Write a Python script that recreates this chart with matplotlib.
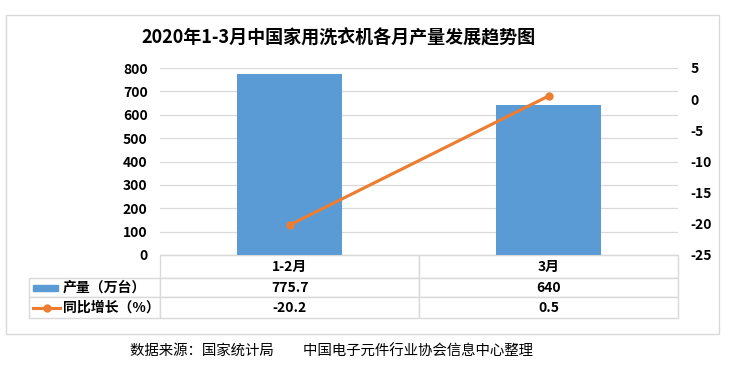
import matplotlib
matplotlib.use("Agg")
import matplotlib.pyplot as plt
from matplotlib.table import Table
from matplotlib.patches import Rectangle
from matplotlib.lines import Line2D
import numpy as np

plt.rcParams["font.family"] = ["Noto Sans CJK SC", "DejaVu Sans"]
plt.rcParams["axes.unicode_minus"] = False

categories = ["1-2月", "3月"]
output = [775.7, 640]
growth = [-20.2, 0.5]
output_label = "产量（万台）"
growth_label = "同比增长（%）"
output_text = ["775.7", "640"]
growth_text = ["-20.2", "0.5"]

BAR_COLOR = "#5B9BD5"
LINE_COLOR = "#ED7D31"
GRID = "#D9D9D9"

W, H = 731, 372
AX_W, AX_H = 518, 187
fig = plt.figure(figsize=(W / 100, H / 100), dpi=100)

# outer frame
fig.add_artist(Rectangle((6 / W, 1 - 334 / H), (719 - 6) / W, (334 - 15) / H,
                         transform=fig.transFigure, fill=False, edgecolor=GRID, lw=1))

ax = fig.add_axes([160 / W, 1 - 255 / H, AX_W / W, AX_H / H])
x = np.arange(len(categories))
ax.bar(x, output, width=0.405, color=BAR_COLOR, zorder=2)
ax.set_xlim(-0.5, len(categories) - 0.5)
ax.set_ylim(0, 800)
ax.set_yticks(np.arange(0, 801, 100))
ax.grid(axis="y", color=GRID, lw=0.9, zorder=0)
ax.set_xticks([])
for s in ["top", "left", "right"]:
    ax.spines[s].set_visible(False)
ax.spines["bottom"].set_color(GRID)
ax.tick_params(axis="y", length=0, pad=9, labelsize=10)
for lab in ax.get_yticklabels():
    lab.set_fontweight("bold")

ax2 = ax.twinx()
ax2.plot(x, growth, color=LINE_COLOR, lw=2.25, marker="o", markersize=5, zorder=3)
ax2.set_ylim(-25, 5)
ax2.set_yticks(np.arange(-25, 6, 5))
for s in ["top", "left", "right", "bottom"]:
    ax2.spines[s].set_visible(False)
ax2.tick_params(axis="y", length=0, pad=9, labelsize=10)
for lab in ax2.get_yticklabels():
    lab.set_fontweight("bold")

# data table under the axes (bbox covers the data columns; labels hang left)
row_h = [23 / AX_H, 19 / AX_H, 21 / AX_H]
label_w, col_w = 131 / AX_W, 259 / AX_W
tb_h = sum(row_h)
tbl = Table(ax, bbox=[0, -tb_h, 1, tb_h])
for j, cat in enumerate(categories):
    tbl.add_cell(0, j, col_w, row_h[0], text=cat, loc="center", edgecolor=GRID)
rows = [(output_label, output_text), (growth_label, growth_text)]
for i, (lab, vals) in enumerate(rows, start=1):
    c = tbl.add_cell(i, -1, label_w, row_h[i], text=lab, loc="left", edgecolor=GRID)
    c.PAD = 0.26
    for j, v in enumerate(vals):
        tbl.add_cell(i, j, col_w, row_h[i], text=v, loc="center", edgecolor=GRID)
tbl.auto_set_font_size(False)
tbl.set_fontsize(10)
ax.add_table(tbl)
tbl.set_clip_on(False)
for cell in tbl.get_celld().values():
    cell.get_text().set_fontweight("bold")
    cell.set_linewidth(1)

# legend keys inside the row label cells
fig.add_artist(Rectangle((33 / W, 1 - 291 / H), 25 / W, 6 / H,
                         transform=fig.transFigure, color=BAR_COLOR))
fig.add_artist(Line2D([33 / W, 60 / W], [1 - 308 / H] * 2, transform=fig.transFigure,
                      color=LINE_COLOR, lw=2.25))
fig.add_artist(Line2D([46.5 / W], [1 - 308 / H], transform=fig.transFigure,
                      color=LINE_COLOR, marker="o", markersize=5, lw=0))

fig.text(338 / W, 1 - 38 / H, "2020年1-3月中国家用洗衣机各月产量发展趋势图",
         ha="center", va="center", fontsize=13, fontweight="bold")
fig.text(331 / W, 1 - 352 / H, "数据来源：国家统计局         中国电子元件行业协会信息中心整理",
         ha="center", va="center", fontsize=10.4)

fig.savefig("out.png", dpi=100)
